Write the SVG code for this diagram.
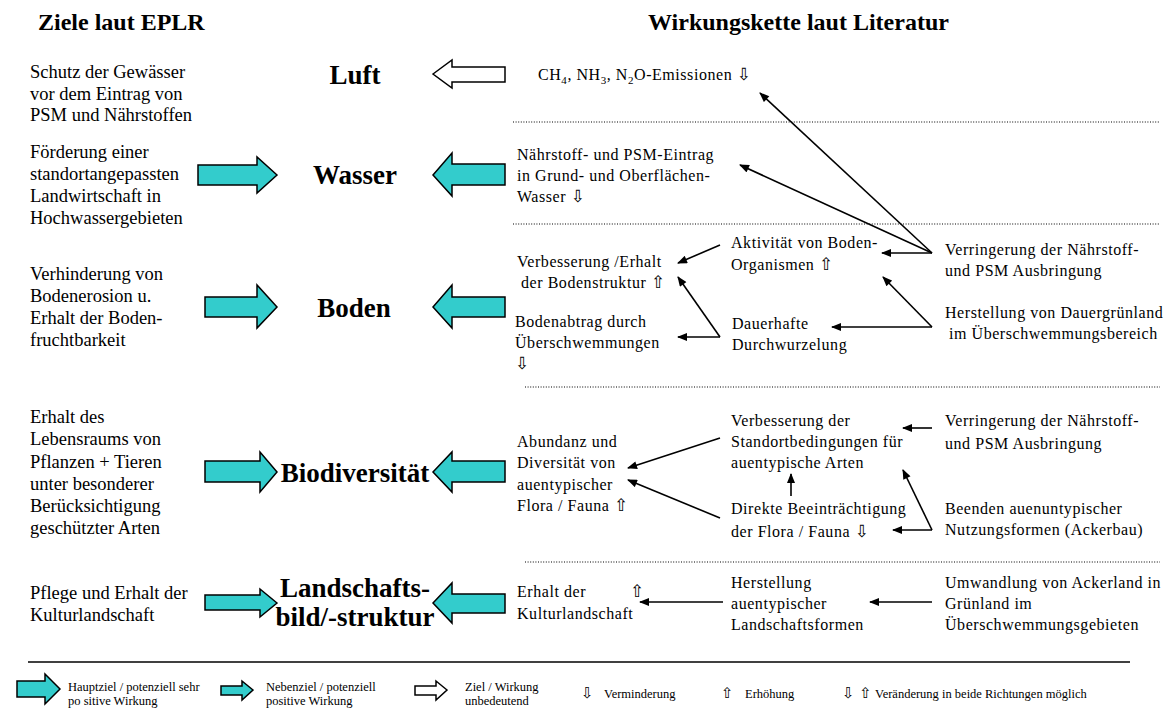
<svg xmlns="http://www.w3.org/2000/svg" width="1166" height="708" viewBox="0 0 1166 708">
  <style>
    text { font-family: "Liberation Serif", "Times New Roman", serif; fill: #000; }
    .head { font-size: 24px; font-weight: bold; }
    .goal { font-size: 18.5px; }
    .medium { font-size: 27px; font-weight: bold; text-anchor: middle; }
    .chain { font-size: 16px; letter-spacing: 0.55px; }
    .legend { font-size: 12.5px; }
    .sym { font-family: "DejaVu Sans", sans-serif; font-size: 17px; letter-spacing: 0; }
    .lsym { font-family: "DejaVu Sans", sans-serif; font-size: 15px; }
    .big { fill: #33cccc; stroke: #000; stroke-width: 1.5; stroke-linejoin: miter; }
    .weak { fill: #fff; stroke: #000; stroke-width: 1.5; }
    .sep { stroke: #000; stroke-width: 1.2; stroke-dasharray: 1 1.6; fill: none; }
    .link { stroke: #000; stroke-width: 1.6; fill: none; marker-end: url(#tip); }
  </style>
  <defs>
    <marker id="tip" viewBox="0 0 10 8" refX="9" refY="4" markerWidth="11" markerHeight="8" orient="auto" markerUnits="userSpaceOnUse">
      <path d="M0,0 L10,4 L0,8 z" fill="#000"/>
    </marker>
  </defs>

  <rect width="1166" height="708" fill="#fff"/>

  <!-- column headings -->
  <g id="headings">
    <text class="head" x="38" y="30">Ziele laut EPLR</text>
    <text class="head" x="648" y="30">Wirkungskette laut Literatur</text>
  </g>

  <!-- section separators -->
  <g id="separators">
    <line class="sep" x1="513" y1="122" x2="1160" y2="122"/>
    <line class="sep" x1="513" y1="224" x2="1160" y2="224"/>
    <line class="sep" x1="525" y1="387" x2="1160" y2="387"/>
    <line class="sep" x1="525" y1="562" x2="1160" y2="562"/>
  </g>

  <!-- EPLR goals -->
  <g id="goal-gewaesser">
    <text class="goal" x="30" y="78">Schutz der Gewässer</text>
    <text class="goal" x="30" y="100">vor dem Eintrag von</text>
    <text class="goal" x="30" y="121">PSM und Nährstoffen</text>
  </g>
  <g id="goal-landwirtschaft">
    <text class="goal" x="30" y="158">Förderung einer</text>
    <text class="goal" x="30" y="180">standortangepassten</text>
    <text class="goal" x="30" y="202">Landwirtschaft in</text>
    <text class="goal" x="30" y="224">Hochwassergebieten</text>
  </g>
  <g id="goal-erosion">
    <text class="goal" x="30" y="280">Verhinderung von</text>
    <text class="goal" x="30" y="302">Bodenerosion u.</text>
    <text class="goal" x="30" y="324">Erhalt der Boden-</text>
    <text class="goal" x="30" y="346">fruchtbarkeit</text>
  </g>
  <g id="goal-lebensraum">
    <text class="goal" x="30" y="423">Erhalt des</text>
    <text class="goal" x="30" y="445">Lebensraums von</text>
    <text class="goal" x="30" y="468">Pflanzen + Tieren</text>
    <text class="goal" x="30" y="490">unter besonderer</text>
    <text class="goal" x="30" y="512">Berücksichtigung</text>
    <text class="goal" x="30" y="534">geschützter Arten</text>
  </g>
  <g id="goal-kulturlandschaft">
    <text class="goal" x="30" y="599">Pflege und Erhalt der</text>
    <text class="goal" x="30" y="621">Kulturlandschaft</text>
  </g>

  <!-- protected media with goal / effect arrows -->
  <g id="medium-luft">
    <text class="medium" x="355" y="84">Luft</text>
    <polygon class="weak" points="433,74 452,60 452,67 505,67 505,82 452,82 452,88"/>
  </g>
  <g id="medium-wasser">
    <polygon class="big" points="277,175 257,157 257,165 198,165 198,185 257,185 257,193"/>
    <text class="medium" x="355" y="184">Wasser</text>
    <polygon class="big" points="433,175 452,153 452,164 505,164 505,185 452,185 452,196"/>
  </g>
  <g id="medium-boden">
    <polygon class="big" points="277,307 257,285 257,297 205,297 205,317 257,317 257,328"/>
    <text class="medium" x="354" y="317">Boden</text>
    <polygon class="big" points="433,307 452,285 452,297 505,297 505,317 452,317 452,328"/>
  </g>
  <g id="medium-biodiversitaet">
    <polygon class="big" points="277,472 260,452 260,461 205,461 205,482 260,482 260,492"/>
    <text class="medium" x="355" y="482">Biodiversität</text>
    <polygon class="big" points="433,472 452,452 452,461 505,461 505,482 452,482 452,492"/>
  </g>
  <g id="medium-landschaft">
    <polygon class="big" points="277,603 260,589 260,595 205,595 205,610 260,610 260,617"/>
    <text class="medium" x="355" y="597">Landschafts-</text>
    <text class="medium" x="355" y="626">bild/-struktur</text>
    <polygon class="big" points="433,603 452,583 452,594 505,594 505,613 452,613 452,623"/>
  </g>

  <!-- effect chain: Luft -->
  <g id="emissionen">
    <text class="chain" x="538" y="80">CH<tspan font-size="11" dy="4">4</tspan><tspan dy="-4">, NH</tspan><tspan font-size="11" dy="4">3</tspan><tspan dy="-4">, N</tspan><tspan font-size="11" dy="4">2</tspan><tspan dy="-4">O-Emissionen </tspan><tspan class="sym">⇩</tspan></text>
  </g>

  <!-- effect chain: Wasser -->
  <g id="eintrag">
    <text class="chain" x="517" y="160">Nährstoff- und PSM-Eintrag</text>
    <text class="chain" x="517" y="181">in Grund- und Oberflächen-</text>
    <text class="chain" x="517" y="202">Wasser <tspan class="sym">⇩</tspan></text>
  </g>

  <!-- effect chain: Boden -->
  <g id="bodenstruktur">
    <text class="chain" x="517" y="267">Verbesserung /Erhalt</text>
    <text class="chain" x="521" y="288">der Bodenstruktur <tspan class="sym">⇧</tspan></text>
  </g>
  <g id="bodenabtrag">
    <text class="chain" x="515" y="327">Bodenabtrag durch</text>
    <text class="chain" x="515" y="348">Überschwemmungen</text>
    <text class="chain" x="515" y="369"><tspan class="sym">⇩</tspan></text>
  </g>
  <g id="bodenorganismen">
    <text class="chain" x="731" y="248">Aktivität von Boden-</text>
    <text class="chain" x="731" y="270">Organismen <tspan class="sym">⇧</tspan></text>
  </g>
  <g id="durchwurzelung">
    <text class="chain" x="732" y="329">Dauerhafte</text>
    <text class="chain" x="732" y="350">Durchwurzelung</text>
  </g>
  <g id="ausbringung-1">
    <text class="chain" x="945" y="255">Verringerung der Nährstoff-</text>
    <text class="chain" x="945" y="276">und PSM Ausbringung</text>
  </g>
  <g id="dauergruenland">
    <text class="chain" x="945" y="318">Herstellung von Dauergrünland</text>
    <text class="chain" x="949" y="339">im Überschwemmungsbereich</text>
  </g>

  <!-- effect chain: Biodiversitaet -->
  <g id="abundanz">
    <text class="chain" x="517" y="447">Abundanz und</text>
    <text class="chain" x="517" y="468">Diversität von</text>
    <text class="chain" x="517" y="490">auentypischer</text>
    <text class="chain" x="517" y="511">Flora / Fauna <tspan class="sym">⇧</tspan></text>
  </g>
  <g id="standortbedingungen">
    <text class="chain" x="731" y="426">Verbesserung der</text>
    <text class="chain" x="731" y="447">Standortbedingungen für</text>
    <text class="chain" x="731" y="468">auentypische Arten</text>
  </g>
  <g id="beeintraechtigung">
    <text class="chain" x="731" y="514">Direkte Beeinträchtigung</text>
    <text class="chain" x="731" y="537">der Flora / Fauna <tspan class="sym">⇩</tspan></text>
  </g>
  <g id="ausbringung-2">
    <text class="chain" x="945" y="426">Verringerung der Nährstoff-</text>
    <text class="chain" x="945" y="449">und PSM Ausbringung</text>
  </g>
  <g id="nutzungsformen">
    <text class="chain" x="945" y="514">Beenden auenuntypischer</text>
    <text class="chain" x="945" y="535">Nutzungsformen (Ackerbau)</text>
  </g>

  <!-- effect chain: Landschaftsbild -->
  <g id="kulturlandschaft">
    <text class="chain" x="517" y="597">Erhalt der<tspan class="sym" x="630">⇧</tspan></text>
    <text class="chain" x="517" y="619">Kulturlandschaft</text>
  </g>
  <g id="landschaftsformen">
    <text class="chain" x="731" y="588">Herstellung</text>
    <text class="chain" x="731" y="609">auentypischer</text>
    <text class="chain" x="731" y="630">Landschaftsformen</text>
  </g>
  <g id="umwandlung">
    <text class="chain" x="945" y="588">Umwandlung von Ackerland in</text>
    <text class="chain" x="945" y="609">Grünland im</text>
    <text class="chain" x="945" y="630">Überschwemmungsgebieten</text>
  </g>

  <!-- connectors -->
  <g id="connectors">
    <line class="link" x1="932" y1="253" x2="760" y2="93"/>
    <line class="link" x1="932" y1="253" x2="740" y2="165"/>
    <line class="link" x1="932" y1="253" x2="882" y2="253"/>
    <line class="link" x1="932" y1="327" x2="883" y2="277"/>
    <line class="link" x1="932" y1="327" x2="832" y2="327"/>
    <line class="link" x1="720" y1="245" x2="678" y2="263"/>
    <line class="link" x1="720" y1="337" x2="678" y2="277"/>
    <line class="link" x1="720" y1="337" x2="678" y2="337"/>
    <line class="link" x1="720" y1="438" x2="628" y2="468"/>
    <line class="link" x1="720" y1="518" x2="628" y2="480"/>
    <line class="link" x1="791" y1="496" x2="791" y2="474"/>
    <line class="link" x1="932" y1="428" x2="903" y2="428"/>
    <line class="link" x1="932" y1="530" x2="903" y2="470"/>
    <line class="link" x1="932" y1="530" x2="893" y2="530"/>
    <line class="link" x1="723" y1="602" x2="640" y2="602"/>
    <line class="link" x1="932" y1="602" x2="870" y2="602"/>
  </g>

  <!-- legend -->
  <g id="legend">
    <line x1="28" y1="662" x2="1130" y2="662" stroke="#000" stroke-width="1.5"/>
    <polygon class="big" points="60,689 45,674 45,681 17,681 17,697 45,697 45,704"/>
    <text class="legend" x="68" y="691">Hauptziel / potenziell  sehr</text>
    <text class="legend" x="68" y="705">po sitive Wirkung</text>
    <polygon class="big" points="253,690 242,681 242,686 221,686 221,695 242,695 242,700"/>
    <text class="legend" x="266" y="691">Nebenziel / potenziell</text>
    <text class="legend" x="266" y="705">positive Wirkung</text>
    <polygon class="weak" points="447,690 436,681 436,686 415,686 415,695 436,695 436,700"/>
    <text class="legend" x="465" y="691">Ziel / Wirkung</text>
    <text class="legend" x="465" y="705">unbedeutend</text>
    <text class="lsym" x="581" y="698">⇩</text>
    <text class="legend" x="604" y="698">Verminderung</text>
    <text class="lsym" x="721" y="698">⇧</text>
    <text class="legend" x="745" y="698">Erhöhung</text>
    <text class="lsym" x="842" y="698">⇩ ⇧</text>
    <text class="legend" x="875" y="698">Veränderung in beide Richtungen möglich</text>
  </g>
</svg>
